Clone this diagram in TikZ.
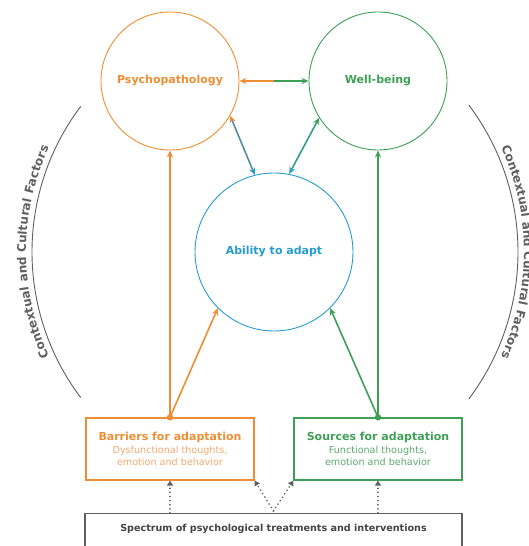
\documentclass[tikz,border=0pt]{standalone}
\usepackage{fontspec}
\setmainfont{DejaVu Sans}
\usepackage{xcolor}
\usepackage{tikz}
\usetikzlibrary{positioning, shapes, calc, arrows.meta, decorations.text}
\definecolor{adaptorange}{RGB}{238,142,52}
\definecolor{lightorange}{RGB}{242,170,110}
\definecolor{adaptgreen}{RGB}{62,160,86}
\definecolor{lightgreen}{RGB}{92,168,112}
\definecolor{adaptblue}{RGB}{38,156,208}
\definecolor{framegray}{RGB}{95,95,95}

\begin{document}
\begin{tikzpicture}[x=1pt, y=1pt]
	\tikzstyle{state}=[circle, draw, line width=0.9pt, minimum size=138pt, inner sep=0pt, font=\fontsize{11}{13}\selectfont\bfseries]
	\tikzstyle{adaptbox}=[draw, line width=1.3pt, minimum width=168pt, minimum height=62pt, align=center, font=\fontsize{9.6}{12}\selectfont]
	\tikzstyle{link}=[line width=1.6pt, -{Stealth[length=7pt,width=6pt]}]
	\tikzstyle{twolink}=[line width=1.6pt, {Stealth[length=7pt,width=6pt]}-{Stealth[length=7pt,width=6pt]}]
	\tikzstyle{treat}=[framegray, line width=1.8pt, dash pattern=on 0.1pt off 4pt, line cap=round, -{Triangle[length=5pt,width=6pt]}]
	\tikzstyle{factors}=[framegray, line width=0.9pt]

	\useasboundingbox (0,0) rectangle (529,546);

	%% the three states
	\node [state, draw=adaptorange, text=adaptorange] (P) at (170,465) {Psychopathology};
	\node [state, draw=adaptgreen, text=adaptgreen] (W) at (378,465) {Well-being};
	\node [state, draw=adaptblue, text=adaptblue, minimum size=158pt] (A) at (274,294) {Ability to adapt};

	%% barriers and sources
	\node [adaptbox, draw=adaptorange, text=lightorange] (B) at (170,97) {\fontsize{11}{13}\selectfont\bfseries\color{adaptorange}Barriers for adaptation\\[1pt]
		Dysfunctional thoughts,\\ emotion and behavior};
	\node [adaptbox, draw=adaptgreen, text=lightgreen] (S) at (378,97) {\fontsize{11}{13}\selectfont\bfseries\color{adaptgreen}Sources for adaptation\\[1pt]
		Functional thoughts,\\ emotion and behavior};

	\node [draw=framegray, line width=1.3pt, anchor=north, minimum width=377pt, inner ysep=11pt, text height=7pt, text depth=30pt,
		text=framegray!70!black, font=\fontsize{9.6}{11}\selectfont\bfseries] (T) at (273.5,33) {Spectrum of psychological treatments and interventions};

	%% connections between the states
	\coordinate (PW) at ($(P.east)!0.5!(W.west)$);
	\draw [link, adaptorange] (PW) -- (P.east);
	\draw [link, adaptgreen] (PW) -- (W.west);
	\draw [twolink, {Stealth[length=7pt,width=6pt,color=adaptorange]}-{Stealth[length=7pt,width=6pt,color=adaptblue]}, adaptblue!45!gray] (P.-30) -- (A.104);
	\draw [twolink, {Stealth[length=7pt,width=6pt,color=adaptgreen]}-{Stealth[length=7pt,width=6pt,color=adaptblue]}, adaptgreen!55!adaptblue] (W.212) -- (A.79);

	%% from the boxes
	\draw [link, adaptorange] (B.north) -- (B.north |- P.south);
	\draw [link, adaptorange] (B.north) -- (A.225);
	\draw [link, adaptgreen] (S.north) -- (S.north |- W.south);
	\draw [link, adaptgreen] (S.north) -- (A.-45);
	\fill [adaptorange] (B.north) circle (3.2pt);
	\fill [adaptgreen] (S.north) circle (3.2pt);

	%% treatments
	\coordinate (V) at ($(T.north)+(0,2)$);
	\draw [treat] (B.south |- T.north) -- (B.south);
	\draw [treat] (S.south |- T.north) -- (S.south);
	\foreach \c in {B.south east, S.south west}
		\draw [treat] (V) -- (\c);

	%% contextual and cultural factors
	\draw [factors] (A.center) ++(143:242) arc (143:217:242);
	\draw [factors] (A.center) ++(37:244) arc (37:-37:244);
	\path [decorate, decoration={text along path, text align=center,
		text={|\fontsize{12}{14}\selectfont\bfseries\color{framegray}|Contextual and Cultural Factors}}]
		(A.center) ++(208:248) arc (208:152:248);
	\path [decorate, decoration={text along path, text align=center,
		text={|\fontsize{12}{14}\selectfont\bfseries\color{framegray}|Contextual and Cultural Factors}}]
		(A.center) ++(28:250) arc (28:-28:250);
\end{tikzpicture}
\end{document}
